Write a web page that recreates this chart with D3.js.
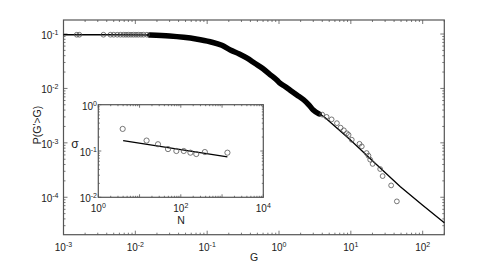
<!DOCTYPE html>
<html>
<head>
<meta charset="utf-8">
<script src="https://cdn.jsdelivr.net/npm/d3@7"></script>
<style>
  body { margin: 0; background: #fff; }
  svg text { font-family: "Liberation Sans", Arial, sans-serif; fill: #222; }
</style>
</head>
<body>
<div id="chart"></div>
<script>
// main panel: cumulative distribution P(G'>G)
const bandG = [0.016, 0.03, 0.047, 0.07, 0.11, 0.16, 0.21, 0.28, 0.36, 0.46, 0.6, 0.75, 0.93, 1.03, 1.2, 1.43, 1.77, 2.2, 2.6, 3.0, 3.6];
const bandP = [0.096, 0.092, 0.087, 0.081, 0.072, 0.062, 0.051, 0.043, 0.036, 0.029, 0.023, 0.018, 0.0143, 0.0125, 0.0110, 0.0093, 0.0076, 0.0062, 0.0050, 0.0040, 0.0034];

// sparse circles (low G and tail)
const dotG = [0.00153, 0.00166, 0.0036, 0.0045, 0.005, 0.0056, 0.0062, 0.0068, 0.0074, 0.008, 0.0087, 0.0094, 0.0102, 0.011, 0.012, 0.013, 0.0145,
              4.0, 4.6, 5.4, 6.4, 7.2, 8.0, 8.8, 9.3, 10.3, 13.2, 14.2, 16.6, 17.6, 18.6, 20.1, 25.6, 27.7, 36.4, 43.7];
const dotP = [0.097, 0.097, 0.097, 0.097, 0.097, 0.097, 0.097, 0.097, 0.097, 0.097, 0.097, 0.097, 0.097, 0.097, 0.097, 0.097, 0.097,
              0.0033, 0.0030, 0.0027, 0.0023, 0.0019, 0.0017, 0.0015, 0.0014, 0.00114, 0.00096, 0.00086, 0.00065, 0.00058, 0.00049, 0.00041, 0.00033, 0.000245, 0.000165, 0.000084];

// fitted curve
const fitG = [0.001, 0.005, 0.016, 0.03, 0.047, 0.07, 0.11, 0.16, 0.21, 0.28, 0.36, 0.46, 0.6, 0.75, 0.93, 1.2, 1.77, 2.6, 3.6, 4.4, 9.8, 20, 48.5, 100, 200];
const fitP = [0.097, 0.097, 0.096, 0.092, 0.087, 0.081, 0.072, 0.062, 0.051, 0.043, 0.036, 0.029, 0.023, 0.018, 0.0143, 0.011, 0.0076, 0.005, 0.0035, 0.0029, 0.00114, 0.00047, 0.000158, 0.000071, 0.000034];

// inset: sigma vs N
const insetN = [3.9, 14.8, 28, 49, 78, 118, 171, 237, 383, 1350];
const insetSigma = [0.30, 0.168, 0.14, 0.11, 0.10, 0.10, 0.092, 0.086, 0.095, 0.092];
const insetFitN = [4, 1350];
const insetFitSigma = [0.168, 0.075];

const mainXTicks = [1e-3, 1e-2, 1e-1, 1e0, 1e1, 1e2];
const mainYTicks = [1e-4, 1e-3, 1e-2, 1e-1];
const insetXTicks = [1e0, 1e2, 1e4];
const insetYTicks = [1e-2, 1e-1, 1e0];

const W = 491, H = 276;
const svg = d3.select("#chart").append("svg").attr("width", W).attr("height", H);

const x = d3.scaleLog().domain([1e-3, 200]).range([63.5, 444.3]);
const y = d3.scaleLog().domain([2.05e-5, 0.181]).range([234.7, 20]);

const ix = d3.scaleLog().domain([1, 1e4]).range([98.3, 263.3]);
const iy = d3.scaleLog().domain([1e-2, 1]).range([197.3, 104.7]);

function expLabel(sel, v) {
  const e = Math.round(Math.log10(v));
  sel.append("tspan").text("10");
  sel.append("tspan").attr("dy", -4).attr("font-size", "7px").text(e);
}

function minorTicks(scale) {
  const [a, b] = scale.domain();
  let out = [];
  for (let d = Math.floor(Math.log10(a)); d <= Math.ceil(Math.log10(b)); d++) {
    for (let k = 1; k <= 9; k++) {
      const v = k * Math.pow(10, d);
      if (v >= a * 0.999 && v <= b * 1.001) out.push({ v: v, major: k === 1 });
    }
  }
  return out;
}

function frame(g, sx, sy, major, minor, stroke) {
  const [x0, x1] = sx.range(), [y0, y1] = sy.range();
  g.append("rect")
    .attr("x", x0).attr("y", y1).attr("width", x1 - x0).attr("height", y0 - y1)
    .attr("fill", "#fff").attr("stroke", stroke).attr("stroke-width", 1.2);
  const tg = g.append("g").attr("stroke", stroke).attr("stroke-width", 0.8);
  minorTicks(sx).forEach(t => {
    const L = t.major ? major : minor, px = sx(t.v);
    tg.append("line").attr("x1", px).attr("x2", px).attr("y1", y0).attr("y2", y0 - L);
    tg.append("line").attr("x1", px).attr("x2", px).attr("y1", y1).attr("y2", y1 + L);
  });
  minorTicks(sy).forEach(t => {
    const L = t.major ? major : minor, py = sy(t.v);
    tg.append("line").attr("x1", x0).attr("x2", x0 + L).attr("y1", py).attr("y2", py);
    tg.append("line").attr("x1", x1).attr("x2", x1 - L).attr("y1", py).attr("y2", py);
  });
}

// main frame
const main = svg.append("g");
frame(main, x, y, 4, 2, "#555");

const line = d3.line().x(d => x(d[0])).y(d => y(d[1]));

// fitted curve
main.append("path")
  .datum(fitG.map((g, i) => [g, fitP[i]]))
  .attr("d", line)
  .attr("fill", "none").attr("stroke", "#000").attr("stroke-width", 1.3);

// dense band of data circles
main.append("path")
  .datum(bandG.map((g, i) => [g, bandP[i]]))
  .attr("d", line.curve(d3.curveMonotoneX))
  .attr("fill", "none").attr("stroke", "#000").attr("stroke-width", 5.5)
  .attr("stroke-linecap", "round");

main.selectAll("circle.dot")
  .data(dotG.map((g, i) => [g, dotP[i]]))
  .join("circle")
  .attr("class", "dot")
  .attr("cx", d => x(d[0])).attr("cy", d => y(d[1])).attr("r", 2.4)
  .attr("fill", "none").attr("stroke", "#555").attr("stroke-width", 0.8);

// main tick labels
mainXTicks.forEach(v => {
  svg.append("text").attr("x", x(v)).attr("y", 250.5)
    .attr("text-anchor", "middle").attr("font-size", "10px")
    .call(expLabel, v);
});
mainYTicks.forEach(v => {
  svg.append("text").attr("x", 58.5).attr("y", y(v) + 5)
    .attr("text-anchor", "end").attr("font-size", "10px")
    .call(expLabel, v);
});
svg.append("text").attr("x", 254).attr("y", 260.5)
  .attr("text-anchor", "middle").attr("font-size", "10.5px").text("G");
svg.append("text")
  .attr("transform", "translate(41,125) rotate(-90)")
  .attr("text-anchor", "middle").attr("font-size", "10.5px").text("P(G'>G)");

// inset
const inset = svg.append("g");
frame(inset, ix, iy, 3, 1.5, "#555");

inset.append("path")
  .datum(insetFitN.map((n, i) => [n, insetFitSigma[i]]))
  .attr("d", d3.line().x(d => ix(d[0])).y(d => iy(d[1])))
  .attr("fill", "none").attr("stroke", "#000").attr("stroke-width", 1.3);

inset.selectAll("circle")
  .data(insetN.map((n, i) => [n, insetSigma[i]]))
  .join("circle")
  .attr("cx", d => ix(d[0])).attr("cy", d => iy(d[1])).attr("r", 2.6)
  .attr("fill", "none").attr("stroke", "#555").attr("stroke-width", 0.8);

insetXTicks.forEach(v => {
  svg.append("text").attr("x", ix(v)).attr("y", 212)
    .attr("text-anchor", "middle").attr("font-size", "10px")
    .call(expLabel, v);
});
insetYTicks.forEach(v => {
  svg.append("text").attr("x", 97).attr("y", iy(v) + 5)
    .attr("text-anchor", "end").attr("font-size", "10px")
    .call(expLabel, v);
});
svg.append("text").attr("x", 181).attr("y", 223.5)
  .attr("text-anchor", "middle").attr("font-size", "10.5px").text("N");
svg.append("text").attr("x", 75).attr("y", 148)
  .attr("text-anchor", "middle").attr("font-size", "12px").text("σ");
</script>
</body>
</html>
